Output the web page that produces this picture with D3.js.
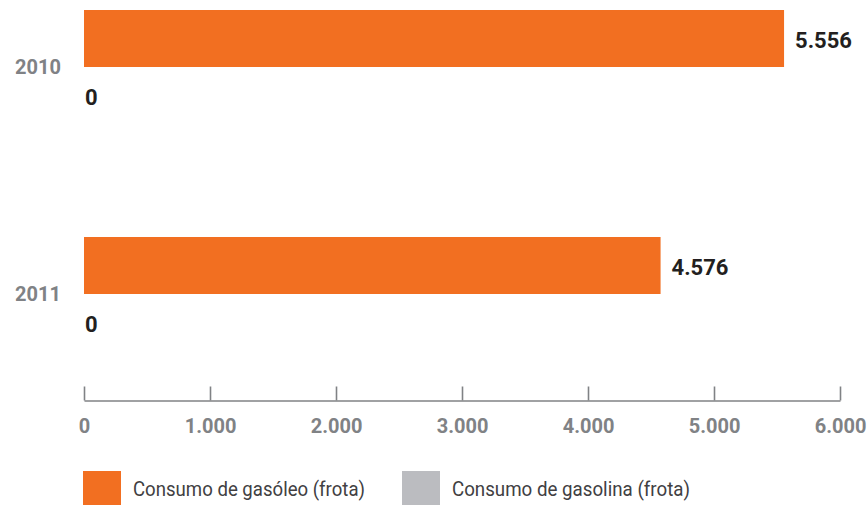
<!DOCTYPE html>
<html>
<head>
<meta charset="utf-8">
<script src="https://cdn.jsdelivr.net/npm/d3@7"></script>
<style>
  html, body { margin: 0; padding: 0; background: #fff; }
  svg { display: block; font-family: Roboto, "Open Sans", sans-serif; }
</style>
</head>
<body>
<svg id="chart" width="868" height="505"></svg>
<script>
const years = ["2010", "2011"];
const seriesNames = ["Consumo de gasóleo (frota)", "Consumo de gasolina (frota)"];
const gasoleo = [5556, 4576];
const gasolina = [0, 0];
const xTicks = [0, 1000, 2000, 3000, 4000, 5000, 6000];
const seriesColors = ["#f26f21", "#bbbcc0"];

const locale = d3.formatLocale({decimal: ",", thousands: ".", grouping: [3], currency: ["", "€"]});
const fmt = locale.format(",d");

const svg = d3.select("#chart");
const x = d3.scaleLinear().domain([0, 6000]).range([84, 840]);
const y = d3.scaleBand().domain(years).range([10, 354]).paddingInner(110 / 227).paddingOuter(0);
const ySub = d3.scaleBand().domain(seriesNames).range([0, y.bandwidth()]).paddingInner(0.05).paddingOuter(0);
const color = d3.scaleOrdinal().domain(seriesNames).range(seriesColors);

const rows = years.map((yr, i) => ({ year: yr, values: [
  { name: seriesNames[0], value: gasoleo[i] },
  { name: seriesNames[1], value: gasolina[i] }
]}));

const g = svg.selectAll("g.year").data(rows).join("g")
  .attr("class", "year")
  .attr("transform", d => `translate(0,${y(d.year)})`);

g.selectAll("rect").data(d => d.values).join("rect")
  .attr("x", x(0))
  .attr("y", d => ySub(d.name))
  .attr("width", d => x(d.value) - x(0))
  .attr("height", ySub.bandwidth())
  .attr("fill", d => color(d.name));

g.selectAll("text.val").data(d => d.values).join("text")
  .attr("class", "val")
  .attr("x", d => d.value > 0 ? x(d.value) + 11 : x(d.value) + 1)
  .attr("y", d => ySub(d.name) + ySub.bandwidth() / 2 + (d.value > 0 ? 1.5 : -1.5))
  .attr("dy", "0.35em")
  .attr("font-size", 22)
  .attr("font-weight", 700)
  .attr("fill", "#231f20")
  .text(d => fmt(d.value));

g.append("text")
  .attr("x", 61)
  .attr("y", y.bandwidth() / 2 - 2)
  .attr("dy", "0.35em")
  .attr("text-anchor", "end")
  .attr("font-size", 20)
  .attr("font-weight", 700)
  .attr("fill", "#808285")
  .text(d => d.year);

// axis
const axis = d3.axisBottom(x).tickValues(xTicks).tickFormat(fmt)
  .tickSize(-14).tickSizeOuter(0).tickPadding(18);
const ax = svg.append("g").attr("transform", "translate(0,400.5)").call(axis);
ax.select(".domain").attr("stroke", "#808285").attr("stroke-width", 1.6);
ax.selectAll(".tick line").attr("stroke", "#808285").attr("stroke-width", 1.6);
ax.selectAll(".tick text")
  .attr("font-size", 20).attr("font-weight", 700).attr("fill", "#808285")
  .attr("font-family", "Roboto, sans-serif");

// legend
const legendX = [83, 402];
const lg = svg.selectAll("g.legend").data(seriesNames).join("g")
  .attr("class", "legend")
  .attr("transform", (d, i) => `translate(${legendX[i]},471)`);
lg.append("rect").attr("width", 38).attr("height", 34).attr("fill", d => color(d));
lg.append("text")
  .attr("x", 50).attr("y", 25)
  .attr("font-size", 20)
  .attr("fill", "#414042")
  .attr("textLength", (d, i) => i === 0 ? 232 : 238)
  .attr("lengthAdjust", "spacingAndGlyphs")
  .text(d => d);
</script>
</body>
</html>
